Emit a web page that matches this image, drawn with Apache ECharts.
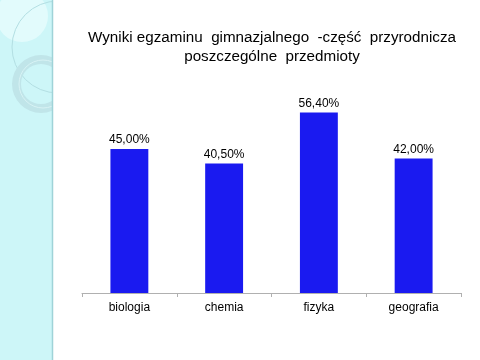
<!DOCTYPE html>
<html><head><meta charset="utf-8">
<script src="https://cdn.jsdelivr.net/npm/echarts@6/dist/echarts.min.js"></script>
<style>html,body{margin:0;padding:0;background:#fff}#c{width:480px;height:360px}</style>
</head><body><div id="c"></div>
<script>
const categories = ['biologia', 'chemia', 'fizyka', 'geografia'];
const values = [45.0, 40.5, 56.4, 42.0];
const titleLines = ['Wyniki egzaminu  gimnazjalnego  -część  przyrodnicza', 'poszczególne  przedmioty'];

const chart = echarts.init(document.getElementById('c'), null, {renderer: 'canvas'});
chart.setOption({
  animation: false,
  backgroundColor: '#ffffff',
  graphic: [
    {type: 'rect', z: 0, shape: {x: 0, y: 0, width: 52, height: 360}, style: {fill: '#cdf6f8'}},
    {type: 'circle', z: 0, shape: {cx: 22, cy: 16, r: 26}, style: {fill: '#e2fbfc'}},
    {type: 'circle', z: 0, shape: {cx: 58, cy: 47, r: 46}, style: {fill: 'none', stroke: '#b3dfe3', lineWidth: 1}},
    {type: 'ring', z: 0, shape: {cx: 41, cy: 84, r: 29, r0: 20}, style: {fill: '#c0e5e9'}},
    {type: 'circle', z: 0, shape: {cx: 43, cy: 84, r: 24}, style: {fill: 'none', stroke: '#d8f3f5', lineWidth: 1}},
    {type: 'rect', z: 0, shape: {x: 53, y: 0, width: 427, height: 360}, style: {fill: '#ffffff'}},
    {type: 'line', z: 0, shape: {x1: 52.5, y1: 0, x2: 52.5, y2: 360}, style: {stroke: '#9fd3d8', lineWidth: 1.5}}
  ],
  title: {
    text: titleLines.join('\n'),
    left: 267, top: 23, textAlign: 'center',
    textStyle: {fontFamily: 'Liberation Sans, Arial', fontWeight: 'normal', fontSize: 15.2, color: '#000', lineHeight: 19}
  },
  grid: {left: 82, right: 19, top: 101, bottom: 67},
  xAxis: {
    type: 'category', data: categories,
    axisLine: {lineStyle: {color: '#b0b0b0', width: 1}},
    axisTick: {show: true, alignWithLabel: false, length: 4, lineStyle: {color: '#b0b0b0'}},
    axisLabel: {fontFamily: 'Liberation Sans, Arial', fontSize: 12, color: '#000', margin: 9}
  },
  yAxis: {type: 'value', min: 0, max: 60, show: false, splitLine: {show: false}},
  series: [{
    type: 'bar', data: values, barWidth: '40%',
    itemStyle: {color: '#1a1af0'},
    label: {
      show: true, position: 'top', distance: 3,
      fontFamily: 'Liberation Sans, Arial', fontSize: 12, color: '#000',
      formatter: p => p.value.toFixed(2).replace('.', ',') + '%'
    }
  }]
});
</script></body></html>
